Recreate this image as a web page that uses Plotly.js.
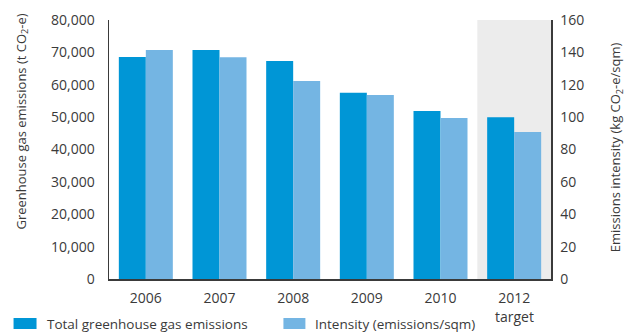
<!DOCTYPE html>
<html>
<head>
<meta charset="utf-8">
<script src="https://cdn.plot.ly/plotly-3.0.1.min.js"></script>
<style>
  html, body { margin: 0; padding: 0; background: #ffffff; }
  #chart { width: 625px; height: 332px; }
</style>
</head>
<body>
<div id="chart"></div>
<script>
// Reporting years and their axis labels
const years = ['2006', '2007', '2008', '2009', '2010', '2012'];
const yearLabels = ['2006', '2007', '2008', '2009', '2010', '2012'];
// the last year is a target rather than an actual result
const targetYear = '2012';
const targetNote = 'target';

// Total emissions, tonnes CO2-e (left axis)
const totalEmissions = [68600, 70700, 67300, 57500, 51900, 50000];
// Emissions intensity, kg CO2-e per sqm (right axis)
const intensity = [141.5, 137, 122.3, 113.7, 99.5, 90.8];

// Series names shown in the key under the chart
const seriesNames = ['Total greenhouse gas emissions', 'Intensity (emissions/sqm)'];

const leftTicks = [0, 10000, 20000, 30000, 40000, 50000, 60000, 70000, 80000];
const rightTicks = [0, 20, 40, 60, 80, 100, 120, 140, 160];

const DARK = '#0096d6';
const LIGHT = '#74b5e3';
const INK = '#3a3a3a';
const FONT = '"Open Sans", "Noto Sans", sans-serif';

const traces = [
  {
    type: 'bar', x: years, y: totalEmissions, yaxis: 'y',
    name: seriesNames[0], offsetgroup: 'a',
    marker: { color: DARK, line: { width: 0 } },
    hoverinfo: 'skip', showlegend: false
  },
  {
    type: 'bar', x: years, y: intensity, yaxis: 'y2',
    name: seriesNames[1], offsetgroup: 'b',
    marker: { color: LIGHT, line: { width: 0 } },
    hoverinfo: 'skip', showlegend: false
  }
];

const W = 625, H = 332;
const M = { l: 108.5, r: 74.3, t: 20, b: 53 };
const PW = W - M.l - M.r, PH = H - M.t - M.b;
// pixel position -> paper fraction of the plot area
const px = v => (v - M.l) / PW;
const py = v => (H - M.b - v) / PH;

// category index of the target year on the x axis
const targetIdx = years.indexOf(targetYear);

// Key drawn as swatches + labels below the plot
const keySwatches = [
  { x0: 13, x1: 36, color: DARK },
  { x0: 283, x1: 305, color: LIGHT }
];
const keyTextX = [45, 314];

const shapes = [
  // shaded band behind the target year
  {
    type: 'rect', xref: 'x', yref: 'y domain',
    x0: targetIdx - 0.5, x1: targetIdx + 0.5, y0: 0, y1: 1,
    fillcolor: '#ececec', line: { width: 0 }, layer: 'below'
  }
].concat(keySwatches.map(s => ({
  type: 'rect', xref: 'paper', yref: 'paper',
  x0: px(s.x0), x1: px(s.x1), y0: py(329), y1: py(318),
  fillcolor: s.color, line: { width: 0 }
})));

const annotations = seriesNames.map((n, i) => ({
  xref: 'paper', yref: 'paper', x: px(keyTextX[i]), y: py(323.5),
  xanchor: 'left', yanchor: 'middle', showarrow: false, borderpad: 0,
  text: n, font: { family: FONT, size: 13.5, color: INK }
})).concat([
  {
    xref: 'x', yref: 'paper', x: targetIdx, y: py(316.5),
    xanchor: 'center', yanchor: 'middle', showarrow: false, borderpad: 0,
    text: targetNote, font: { family: FONT, size: 14, color: INK }
  },
  {
    xref: 'paper', yref: 'paper', x: px(21), y: py(122),
    xanchor: 'center', yanchor: 'middle', showarrow: false, textangle: -90,
    text: 'Greenhouse gas emissions (t CO<sub>2</sub>-e)',
    font: { family: FONT, size: 13, color: INK }
  },
  {
    xref: 'paper', yref: 'paper', x: px(616), y: py(147),
    xanchor: 'center', yanchor: 'middle', showarrow: false, textangle: -90,
    text: 'Emissions intensity (kg CO<sub>2</sub>-e/sqm)',
    font: { family: FONT, size: 13, color: INK }
  }
]);

const layout = {
  width: W, height: H,
  margin: { l: M.l, r: M.r, t: M.t, b: M.b, pad: 0 },
  paper_bgcolor: '#ffffff', plot_bgcolor: 'rgba(0,0,0,0)',
  font: { family: FONT, size: 14, color: INK },
  barmode: 'group', bargap: 0.267, bargroupgap: 0,
  showlegend: false,
  xaxis: {
    type: 'category', categoryorder: 'array', categoryarray: years,
    tickvals: years, ticktext: yearLabels,
    range: [-0.5, 5.5],
    showline: true, linecolor: INK, linewidth: 1.5,
    showgrid: false, zeroline: false, ticks: '',
    ticklabelstandoff: 6,
    tickfont: { family: FONT, size: 14, color: INK }
  },
  yaxis: {
    range: [0, 80000], tickvals: leftTicks, tickformat: ',d',
    showline: true, linecolor: INK, linewidth: 1.5,
    showgrid: false, zeroline: false, ticks: '',
    ticklabelstandoff: 10,
    tickfont: { family: FONT, size: 14, color: INK }
  },
  yaxis2: {
    overlaying: 'y', side: 'right',
    range: [0, 160], tickvals: rightTicks,
    showline: true, linecolor: INK, linewidth: 1.5,
    showgrid: false, zeroline: false, ticks: '',
    ticklabelstandoff: 5,
    tickfont: { family: FONT, size: 14, color: INK }
  },
  shapes: shapes,
  annotations: annotations
};

Plotly.newPlot('chart', traces, layout, { staticPlot: true, displayModeBar: false });
</script>
</body>
</html>
